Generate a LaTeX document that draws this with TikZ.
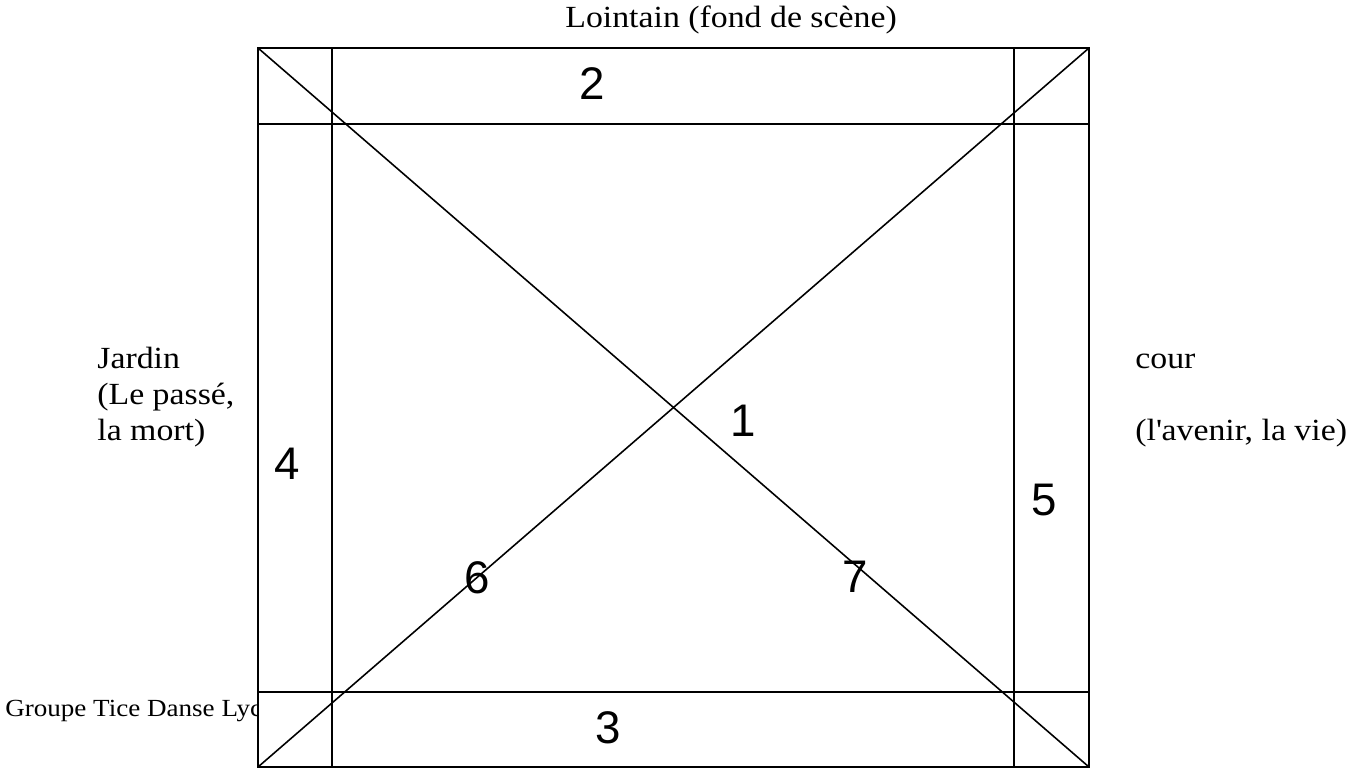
\documentclass[tikz,border=0pt]{standalone}
\usepackage{fontspec}
\setmainfont{Liberation Serif}[FakeStretch=1.1]
\newfontfamily\digitfont{Liberation Sans}
\tikzset{
  scene/.style={line width=1.3pt},
  zone/.style={line width=0.9pt},
  lbl/.style={anchor=base west, inner sep=0pt, font=\fontsize{17.5}{20}\selectfont},
  zonenum/.style={inner sep=0pt, font=\digitfont\fontsize{26}{30}\selectfont},
}
\begin{document}
\begin{tikzpicture}[x=0.02cm, y=-0.02cm]
  \useasboundingbox (0,0) rectangle (1349,768);
  % footer text, partly hidden by the stage
  \node[lbl, font=\fontsize{14}{17}\selectfont] (groupe) at (5,716) {Groupe Tice Danse Lyc};
  \coordinate (nw) at (258,48);
  \coordinate (ne) at (1089,48);
  \coordinate (sw) at (258,767);
  \coordinate (se) at (1089,767);
  \fill[white] (nw) rectangle (se);
  % zones
  \foreach \xv in {332,1014}
    \draw[zone] (\xv,48) -- (\xv,767);
  \foreach \yv in {124,692}
    \draw[zone] (258,\yv) -- (1089,\yv);
  \draw[zone] (nw) -- (se);
  \draw[zone] (sw) -- (ne);
  \draw[scene] (nw) rectangle (se);
  % labels
  \node[lbl] (lointain) at (565,27) {Lointain (fond de scène)};
  \node[lbl] (jardin) at (97,368) {Jardin};
  \node[lbl] (passe) at (97,404) {(Le passé,};
  \node[lbl] (mort) at (97,440) {la mort)};
  \node[lbl] (cour) at (1135,368) {cour};
  \node[lbl] (avenir) at (1135,440) {(l\textquotesingle avenir, la vie)};
  \foreach \xn/\xx/\xy in {1/743/421, 2/592/84, 3/608/728, 4/287/464,
    5/1044/500, 6/477/578, 7/855/577}
    \node[zonenum] (z\xn) at (\xx,\xy) {\xn};
\end{tikzpicture}
\end{document}
